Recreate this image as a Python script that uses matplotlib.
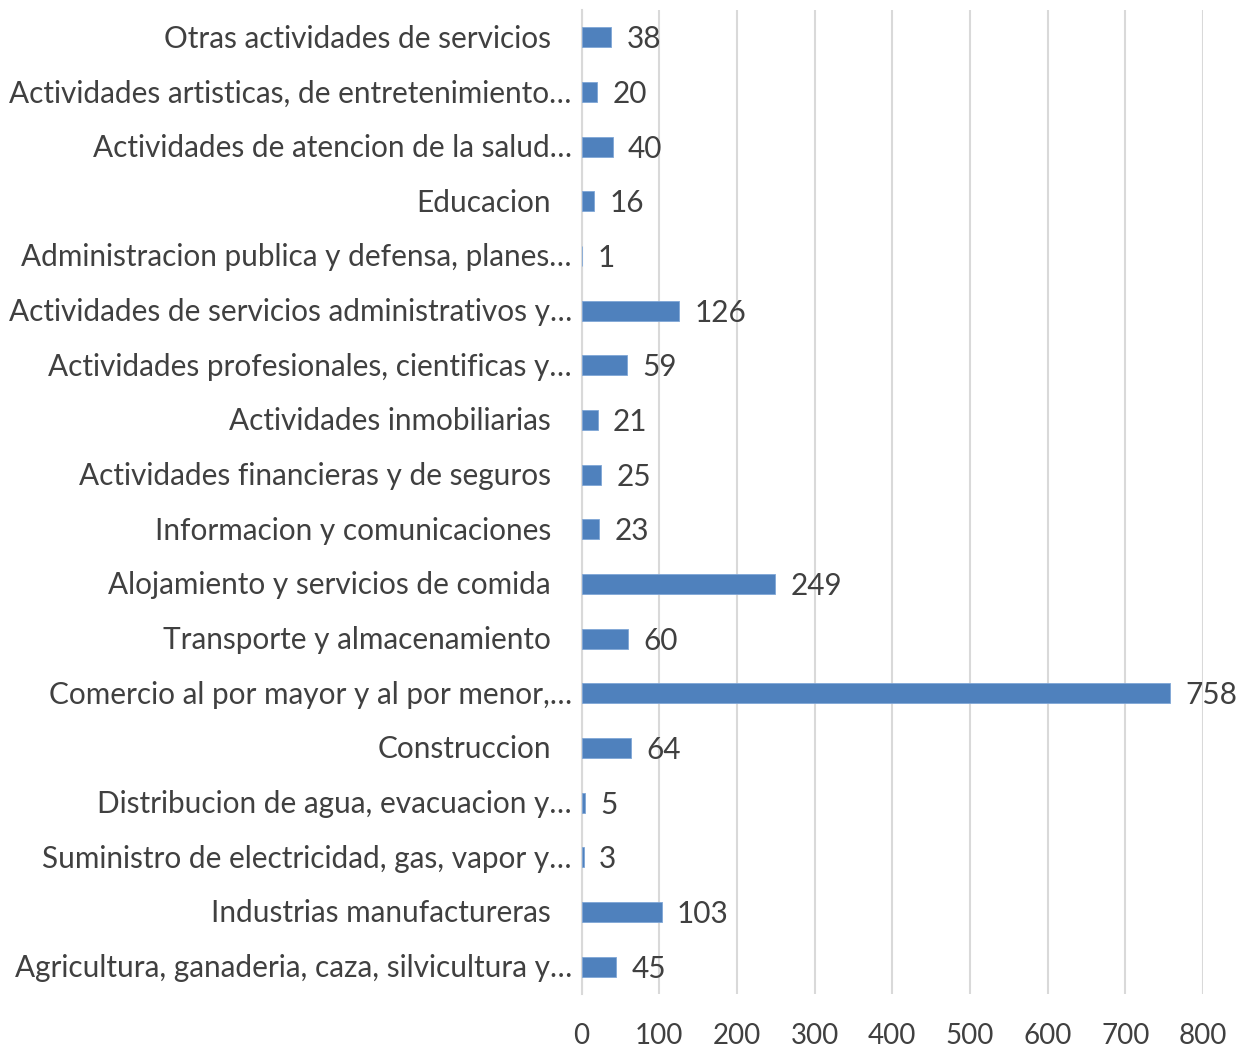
import matplotlib
matplotlib.use("Agg")
import matplotlib.pyplot as plt

# categories top -> bottom as in the chart
categories = [
    "Otras actividades de servicios",
    "Actividades artisticas, de entretenimiento…",
    "Actividades de atencion de la salud…",
    "Educacion",
    "Administracion publica y defensa, planes…",
    "Actividades de servicios administrativos y…",
    "Actividades profesionales, cientificas y…",
    "Actividades inmobiliarias",
    "Actividades financieras y de seguros",
    "Informacion y comunicaciones",
    "Alojamiento y servicios de comida",
    "Transporte y almacenamiento",
    "Comercio al por mayor y al por menor,…",
    "Construccion",
    "Distribucion de agua, evacuacion y…",
    "Suministro de electricidad, gas, vapor y…",
    "Industrias manufactureras",
    "Agricultura, ganaderia, caza, silvicultura y…",
]
values = [38, 20, 40, 16, 1, 126, 59, 21, 25, 23, 249, 60, 758, 64, 5, 3, 103, 45]
x_ticks = [0, 100, 200, 300, 400, 500, 600, 700, 800]

plt.rcParams["font.family"] = ["Lato", "DejaVu Sans"]
text_col = "#404040"
fs = 21.4

fig = plt.figure(figsize=(12.36, 10.5), dpi=100)
ax = fig.add_axes([581.5 / 1236, 1 - 994 / 1050, (1203 - 581.5) / 1236, (994 - 10) / 1050])

pos = list(range(len(categories)))
ax.barh(pos, values, height=0.37, color="#4F81BD", edgecolor="#7fa6d6", linewidth=0.6, zorder=3)

ax.set_xlim(0, 800)
ax.set_ylim(len(categories) - 0.5, -0.5)
ax.set_xticks(x_ticks)
ax.set_xticklabels([str(t) for t in x_ticks], fontsize=20, color=text_col)
ax.tick_params(axis="x", length=0, pad=21)
ax.set_yticks(pos)
ax.set_yticklabels([])
ax.tick_params(axis="y", length=0)
ax.grid(axis="x", color="#d9d9d9", linewidth=1.5, zorder=0)
for s in ["top", "right", "bottom"]:
    ax.spines[s].set_visible(False)
ax.spines["left"].set_color("#d9d9d9")
ax.spines["left"].set_linewidth(1.5)

# category labels, truncated ones sit closer to the axis like excel does
for i, lab in enumerate(categories):
    pad = 7 if lab.endswith("…") else 22
    ax.annotate(lab, xy=(0, i), xycoords=("axes fraction", "data"),
                xytext=(-pad, -1), textcoords="offset points",
                ha="right", va="center", fontsize=fs, color=text_col)

# value labels
for i, v in enumerate(values):
    ax.annotate(str(v), xy=(v, i), xytext=(11, -1.5), textcoords="offset points",
                ha="left", va="center", fontsize=fs, color=text_col)

fig.savefig("out.png", dpi=100, facecolor="white")
